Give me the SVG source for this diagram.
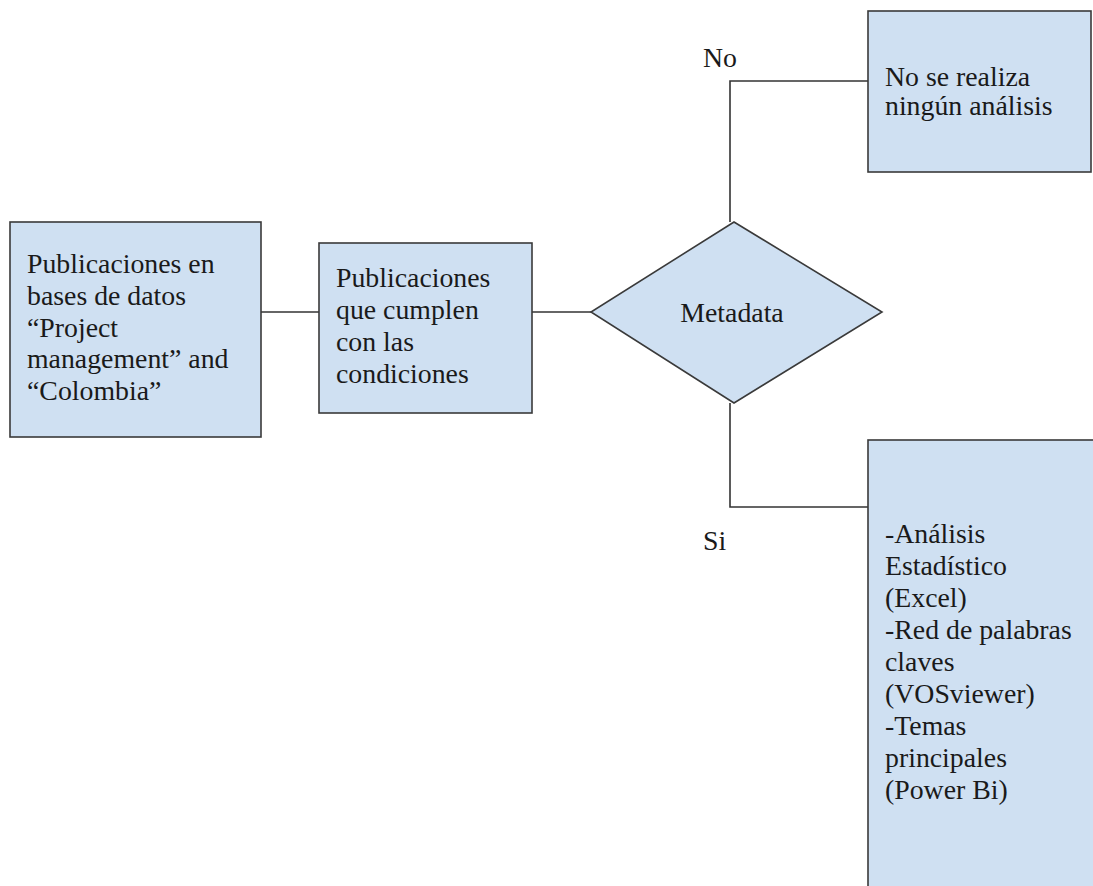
<svg xmlns="http://www.w3.org/2000/svg" width="1093" height="886" viewBox="0 0 1093 886">
<style>
.box{fill:#cfe0f2;stroke:#3a3a3a;stroke-width:1.6}
.t{font-family:'Liberation Serif','Tinos','DejaVu Serif',serif;font-size:27.8px;fill:#1a1a1a}
.c{fill:none;stroke:#333;stroke-width:1.6}
</style>
<rect width="1093" height="886" fill="#ffffff"/>
<g id="connectors">
<line class="c" x1="261" y1="312" x2="319" y2="312"/>
<line class="c" x1="532" y1="312" x2="591" y2="312"/>
<polyline class="c" points="730,222 730,81 868,81"/>
<polyline class="c" points="730,403 730,507 868,507"/>
<text class="t" x="703" y="67">No</text>
<text class="t" x="703" y="550">Si</text>
</g>
<g id="n1">
<rect class="box" x="10" y="222" width="251" height="215"/>
<text class="t" x="27" y="273">Publicaciones en</text>
<text class="t" x="27" y="305">bases de datos</text>
<text class="t" x="27" y="337">“Project</text>
<text class="t" x="27" y="368">management” and</text>
<text class="t" x="27" y="400">“Colombia”</text>
</g>
<g id="n2">
<rect class="box" x="319" y="243" width="213" height="170"/>
<text class="t" x="336" y="287">Publicaciones</text>
<text class="t" x="336" y="319">que cumplen</text>
<text class="t" x="336" y="351">con las</text>
<text class="t" x="336" y="383">condiciones</text>
</g>
<g id="n3">
<polygon class="box" points="734,222 882,312 734,403 591,312"/>
<text class="t" x="732" y="322" text-anchor="middle">Metadata</text>
</g>
<g id="n4">
<rect class="box" x="868" y="11" width="223" height="161"/>
<text class="t" x="885" y="86">No se realiza</text>
<text class="t" x="885" y="115">ningún análisis</text>
</g>
<g id="n5">
<rect class="box" x="868" y="440" width="240" height="460"/>
<text class="t" x="885" y="543">-Análisis</text>
<text class="t" x="885" y="575">Estadístico</text>
<text class="t" x="885" y="607">(Excel)</text>
<text class="t" x="885" y="639">-Red de palabras</text>
<text class="t" x="885" y="671">claves</text>
<text class="t" x="885" y="703">(VOSviewer)</text>
<text class="t" x="885" y="735">-Temas</text>
<text class="t" x="885" y="767">principales</text>
<text class="t" x="885" y="799">(Power Bi)</text>
</g>
</svg>
